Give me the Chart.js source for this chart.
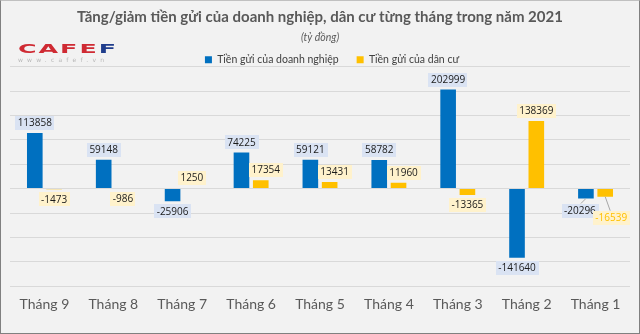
<!DOCTYPE html>
<html>
<head>
<meta charset="utf-8">
<script src="https://cdn.jsdelivr.net/npm/chart.js@4.4.1/dist/chart.umd.min.js"></script>
<style>
  html, body { margin: 0; padding: 0; background: #f2f2f2; }
  #wrap { position: relative; width: 640px; height: 334px; background: #f2f2f2; overflow: hidden; }
  #frame { position: absolute; left: 0; top: 0; right: 0; bottom: 0; box-sizing: border-box;
    border: 1px solid #808080; border-top-color: #c0c0c0; pointer-events: none; }
  #logo { position: absolute; left: 18px; top: 42px; }
  #logo .mark { font: bold 13px "DejaVu Sans"; letter-spacing: 1px; transform: scaleX(1.95); transform-origin: left top; white-space: nowrap; line-height: 13px; }
  #logo .red { color: #cf2a33; }
  #logo .blue { color: #1f3d8c; }
  #logo .url { font: 6px "DejaVu Sans"; color: #b8b8b8; letter-spacing: 4.2px; margin-top: 1px; white-space: nowrap; }
</style>
</head>
<body>
<div id="wrap">
  <canvas id="depositChart" width="640" height="334"></canvas>
  <div id="logo"><div class="mark"><span class="red">CAFE</span><span class="blue">F</span></div><div class="url">www.cafef.vn</div></div>
  <div id="frame"></div>
</div>
<script>
const months = ['Tháng 9', 'Tháng 8', 'Tháng 7', 'Tháng 6', 'Tháng 5', 'Tháng 4', 'Tháng 3', 'Tháng 2', 'Tháng 1'];
const businessDeposits = [113858, 59148, -25906, 74225, 59121, 58782, 202999, -141640, -20296];
const householdDeposits = [-1473, -986, 1250, 17354, 13431, 11960, -13365, 138369, -16539];
const seriesNames = ['Tiền gửi của doanh nghiệp', 'Tiền gửi của dân cư'];
const axisMin = -200000;
const axisMax = 250000;
const axisStep = 50000;

// draws the boxed value labels (Excel-style data labels)
const barValueLabels = {
  id: 'barValueLabels',
  afterDatasetsDraw(chart, args, opts) {
    const ctx = chart.ctx;
    ctx.save();
    ctx.font = opts.font;
    ctx.textAlign = 'center';
    ctx.textBaseline = 'middle';
    chart.data.datasets.forEach((ds, di) => {
      chart.getDatasetMeta(di).data.forEach((bar, i) => {
        const v = ds.data[i];
        const shift = (opts.shift[di] && opts.shift[di][i]) || [0, 0];
        const cx = bar.x + shift[0];
        const cy = (v >= 0 ? bar.y - opts.gap : bar.y + opts.gap) + shift[1];
        const text = String(v);
        const w = ctx.measureText(text).width + 5;
        const h = 14;
        if (shift[1]) {
          ctx.strokeStyle = '#a6a6a6';
          ctx.lineWidth = 1;
          ctx.beginPath();
          ctx.moveTo(bar.x, bar.y);
          ctx.lineTo(cx + (shift[0] < 0 ? 1 : -1), cy - h / 2);
          ctx.stroke();
        }
        ctx.fillStyle = opts.boxColors[di];
        ctx.fillRect(Math.round(cx - w / 2), Math.round(cy - h / 2), Math.round(w), h);
        ctx.fillStyle = (opts.textColors[di] && opts.textColors[di][i]) || '#1a1a1a';
        ctx.fillText(text, cx, cy + 0.5);
      });
    });
    ctx.restore();
  }
};

// legend in the original sits a bit right of centre
const legendNudge = {
  id: 'legendNudge',
  afterLayout(chart) {
    chart.legend.left += 12;
    chart.legend.right += 12;
  }
};

new Chart(document.getElementById('depositChart'), {
  type: 'bar',
  data: {
    labels: months,
    datasets: [
      { label: seriesNames[0], data: businessDeposits, backgroundColor: '#0070c0' },
      { label: seriesNames[1], data: householdDeposits, backgroundColor: '#ffc000' }
    ]
  },
  options: {
    responsive: false,
    animation: false,
    devicePixelRatio: 1,
    categoryPercentage: 0.56,
    barPercentage: 0.81,
    layout: { padding: { left: 10, right: 10, top: 0, bottom: 11 } },
    scales: {
      x: {
        grid: { display: false, drawTicks: false },
        border: { display: false },
        ticks: { color: '#595959', font: { family: 'Lato', size: 14 }, padding: 10 }
      },
      y: {
        min: axisMin,
        max: axisMax,
        border: { display: false },
        grid: { color: '#d9d9d9', lineWidth: 1, drawTicks: false },
        ticks: { display: false, stepSize: axisStep }
      }
    },
    plugins: {
      title: {
        display: true,
        text: 'Tăng/giảm tiền gửi của doanh nghiệp, dân cư từng tháng trong năm 2021',
        color: '#595959',
        font: { family: 'Lato', size: 15, weight: 'bold' },
        padding: { top: 8, bottom: 0 }
      },
      subtitle: {
        display: true,
        text: '(tỷ đồng)',
        color: '#595959',
        font: { family: 'Lato', size: 10.5, style: 'italic' },
        padding: { top: 5, bottom: -7 }
      },
      legend: {
        display: true,
        maxHeight: 30,
        labels: {
          boxWidth: 7,
          boxHeight: 7,
          padding: 18,
          color: '#404040',
          font: { family: 'Lato', size: 10.5 }
        }
      },
      tooltip: { enabled: false },
      barValueLabels: {
        font: '10px "Open Sans"',
        gap: 10,
        boxColors: ['#dae3f3', '#fff2cc'],
        textColors: { 1: { 8: '#ffc000' } },
        shift: { 0: { 8: [-6, 2] }, 1: { 3: [5, 0], 4: [5, 0], 5: [5, 0], 8: [6, 11] } }
      }
    }
  },
  plugins: [barValueLabels, legendNudge]
});
</script>
</body>
</html>
